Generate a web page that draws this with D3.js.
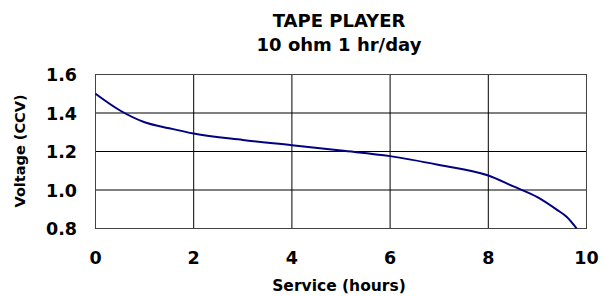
<!DOCTYPE html>
<html>
<head>
<meta charset="utf-8">
<script src="https://cdn.jsdelivr.net/npm/d3@7"></script>
<style>
html,body{margin:0;padding:0;background:#fff;}
svg text{font-family:"DejaVu Sans",Verdana,sans-serif;font-weight:bold;fill:#000;}
</style>
</head>
<body>
<svg id="chart" width="601" height="296"></svg>
<script>
const titleLines = ["TAPE PLAYER", "10 ohm 1 hr/day"];
const xTicks = [0, 2, 4, 6, 8, 10];
const yTicks = [0.8, 1.0, 1.2, 1.4, 1.6];
const hours = [0, 0.5, 1, 1.5, 2, 3, 4, 5, 6, 7, 8, 8.5, 9, 9.4, 9.6, 9.8];
const voltage = [1.5, 1.413, 1.352, 1.321, 1.293, 1.26, 1.233, 1.205, 1.176, 1.13, 1.075, 1.02, 0.963, 0.897, 0.86, 0.8];
const xLabel = "Service (hours)";
const yLabel = "Voltage (CCV)";

const svg = d3.select("#chart");
const L = 95.5, R = 586.5, T = 74.5, B = 228.5;
const x = d3.scaleLinear().domain([0, 10]).range([L, R]);
const y = d3.scaleLinear().domain([0.8, 1.6]).range([B, T]);

// grid
const g = svg.append("g");
g.selectAll(".vg").data(xTicks).join("line")
  .attr("x1", d => x(d)).attr("x2", d => x(d)).attr("y1", T).attr("y2", B)
  .attr("stroke", "#000").attr("stroke-width", 1);
g.selectAll(".hg").data(yTicks).join("line")
  .attr("x1", L).attr("x2", R).attr("y1", d => y(d)).attr("y2", d => y(d))
  .attr("stroke", "#000").attr("stroke-width", 1);
g.append("rect").attr("x", L).attr("y", T).attr("width", R - L).attr("height", B - T)
  .attr("fill", "none").attr("stroke", "#444").attr("stroke-width", 1);

// tick labels
svg.selectAll(".xt").data(xTicks).join("text")
  .attr("x", d => x(d)).attr("y", 264).attr("text-anchor", "middle")
  .attr("font-size", 17.5).text(d => d);
svg.selectAll(".yt").data(yTicks).join("text")
  .attr("x", 77).attr("y", d => y(d) + 6.5).attr("text-anchor", "end")
  .attr("font-size", 17.5).text(d => d.toFixed(1));

// line
const line = d3.line().x((d, i) => x(hours[i])).y(d => y(d)).curve(d3.curveMonotoneX);
svg.append("path").datum(voltage).attr("d", line)
  .attr("fill", "none").attr("stroke", "#000080").attr("stroke-width", 2);

// titles
svg.selectAll(".tt").data(titleLines).join("text")
  .attr("x", 339).attr("y", (d, i) => 27 + i * 24).attr("text-anchor", "middle")
  .attr("font-size", 18).text(d => d);
svg.append("text").attr("x", 339).attr("y", 291).attr("text-anchor", "middle")
  .attr("font-size", 15.5).text(xLabel);
svg.append("text").attr("transform", "translate(25,151) rotate(-90)")
  .attr("text-anchor", "middle").attr("font-size", 14.5).text(yLabel);
</script>
</body>
</html>
